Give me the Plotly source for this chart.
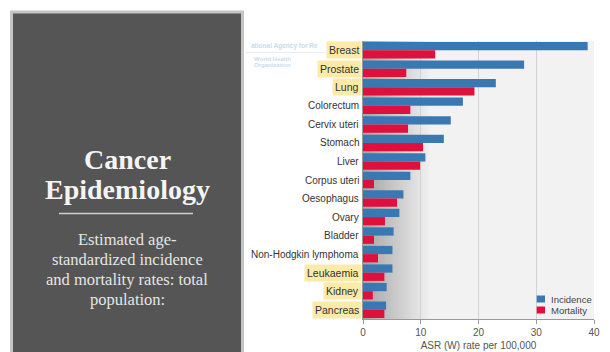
import plotly.graph_objects as go

# ---------------- data ----------------
categories = ["Breast", "Prostate", "Lung", "Colorectum", "Cervix uteri", "Stomach",
              "Liver", "Corpus uteri", "Oesophagus", "Ovary", "Bladder",
              "Non-Hodgkin lymphoma", "Leukaemia", "Kidney", "Pancreas"]
incidence = [38.9, 27.9, 23.0, 17.3, 15.2, 14.0, 10.8, 8.2, 7.0, 6.3, 5.3, 5.1, 5.1, 4.1, 4.0]
mortality = [12.5, 7.5, 19.3, 8.2, 7.8, 10.4, 9.9, 1.9, 5.9, 3.8, 1.9, 2.6, 3.7, 1.7, 3.7]
highlighted = ["Breast", "Prostate", "Lung", "Leukaemia", "Kidney", "Pancreas"]
series_names = ["Incidence", "Mortality"]
x_ticks = [0, 10, 20, 30, 40]
x_title = "ASR (W) rate per 100,000"
slide_title = ["Cancer", "Epidemiology"]
slide_sub = ["Estimated age-", "standardized incidence", "and mortality rates: total", "population:"]
watermark = ["ational Agency for Re", "World Health", "Organization"]

BLUE = "#3a78b4"
RED = "#e0103c"

W, H = 610, 352
ML, MR, MT, MB = 363, 16, 41, 33
PW, PH = W - ML - MR, H - MT - MB


def px(x):
    return (x - ML) / PW


def py(y):
    return (H - MB - y) / PH


fig = go.Figure()
fig.add_trace(go.Bar(y=categories, x=incidence, name=series_names[0], orientation="h",
                     marker=dict(color=BLUE, line=dict(width=0))))
fig.add_trace(go.Bar(y=categories, x=mortality, name=series_names[1], orientation="h",
                     marker=dict(color=RED, line=dict(width=0))))

shapes = []
# left slide panel
shapes.append(dict(type="rect", xref="paper", yref="paper", x0=px(11.5), x1=px(242.5),
                   y0=py(360), y1=py(12), fillcolor="#555555",
                   line=dict(color="#c4c4c4", width=3), layer="above"))
shapes.append(dict(type="line", xref="paper", yref="paper", x0=px(59), x1=px(193),
                   y0=py(213.5), y1=py(213.5), line=dict(color="#d0d0d0", width=1.5), layer="above"))
# faint rule under watermark
shapes.append(dict(type="line", xref="paper", yref="paper", x0=px(246), x1=px(326),
                   y0=py(52.5), y1=py(52.5), line=dict(color="#e6eef5", width=1)))
# background gradient near zero
steps = 30
step_w = 12.0 / steps
for i in range(steps):
    t = i / (steps - 1)
    c = int(166 + (242 - 166) * t)
    shapes.append(dict(type="rect", xref="x", yref="paper", x0=i * step_w,
                       x1=(i + 1) * step_w + 0.25, y0=0, y1=1,
                       fillcolor=f"rgb({c},{c},{c})", line=dict(width=0), layer="below"))
# legend swatches
shapes.append(dict(type="rect", xref="paper", yref="paper", x0=px(536.7), x1=px(545),
                   y0=py(302.5), y1=py(295.5), fillcolor=BLUE, line=dict(width=0)))
shapes.append(dict(type="rect", xref="paper", yref="paper", x0=px(536.7), x1=px(545),
                   y0=py(313.5), y1=py(306.5), fillcolor=RED, line=dict(width=0)))

ann = []
# watermark
ann.append(dict(text="<b>" + watermark[0] + "</b>", xref="paper", yref="paper",
                x=px(249), y=py(46), xanchor="left", yanchor="middle", showarrow=False,
                font=dict(family="Liberation Sans", size=6.5, color="#c8dcee")))
ann.append(dict(text="<b>" + watermark[1] + "</b>", xref="paper", yref="paper",
                x=px(252), y=py(59.3), xanchor="left", yanchor="middle", showarrow=False,
                font=dict(family="Liberation Sans", size=6, color="#c8dcee")))
ann.append(dict(text="<b>" + watermark[2] + "</b>", xref="paper", yref="paper",
                x=px(252), y=py(65.3), xanchor="left", yanchor="middle", showarrow=False,
                font=dict(family="Liberation Sans", size=6, color="#c8dcee")))
# category labels
for c in categories:
    hl = c in highlighted
    ann.append(dict(text=c, xref="paper", yref="y", x=px(361.5), y=c, xanchor="right",
                    yanchor="middle", showarrow=False,
                    bgcolor="#fbeaa8" if hl else "rgba(0,0,0,0)", borderpad=2,
                    font=dict(family="Liberation Sans", size=10.5 if hl else 10,
                              color="#333333")))
# legend texts
ann.append(dict(text=series_names[0], xref="paper", yref="paper", x=px(548.5), y=py(299),
                xanchor="left", yanchor="middle", showarrow=False,
                font=dict(family="Liberation Sans", size=9.5, color="#444444")))
ann.append(dict(text=series_names[1], xref="paper", yref="paper", x=px(548.5), y=py(310),
                xanchor="left", yanchor="middle", showarrow=False,
                font=dict(family="Liberation Sans", size=9.5, color="#444444")))
# slide text
ann.append(dict(text="<b>" + slide_title[0] + "</b>", xref="paper", yref="paper", x=px(127),
                y=py(159.5), xanchor="center", yanchor="middle", showarrow=False,
                font=dict(family="Liberation Serif", size=28, color="#f4f4f4")))
ann.append(dict(text="<b>" + slide_title[1] + "</b>", xref="paper", yref="paper", x=px(127),
                y=py(189.5), xanchor="center", yanchor="middle", showarrow=False,
                font=dict(family="Liberation Serif", size=28, color="#f4f4f4")))
for i, line in enumerate(slide_sub):
    ann.append(dict(text=line, xref="paper", yref="paper", x=px(127), y=py(239.5 + 20 * i),
                    xanchor="center", yanchor="middle", showarrow=False,
                    font=dict(family="Liberation Serif", size=16.5, color="#e6e6e6")))

fig.update_layout(
    width=W, height=H, autosize=False,
    margin=dict(l=ML, r=MR, t=MT, b=MB),
    paper_bgcolor="white", plot_bgcolor="#f2f2f2",
    barmode="group", bargap=0.11, bargroupgap=0,
    showlegend=False,
    shapes=shapes, annotations=ann,
    xaxis=dict(range=[0, 40], tickvals=x_ticks, showgrid=True, gridcolor="#d2d2d2",
               gridwidth=1, zeroline=False, showline=True, linecolor="#999999",
               ticks="outside", ticklen=4, tickcolor="#999999", automargin=False,
               tickfont=dict(family="Liberation Sans", size=10, color="#555555"),
               title=dict(text=x_title, standoff=4,
                          font=dict(family="Liberation Sans", size=10, color="#555555"))),
    yaxis=dict(autorange="reversed", showticklabels=False, showgrid=False, automargin=False,
               showline=True, linecolor="#999999", ticks=""),
)

fig.write_html("out.html")
